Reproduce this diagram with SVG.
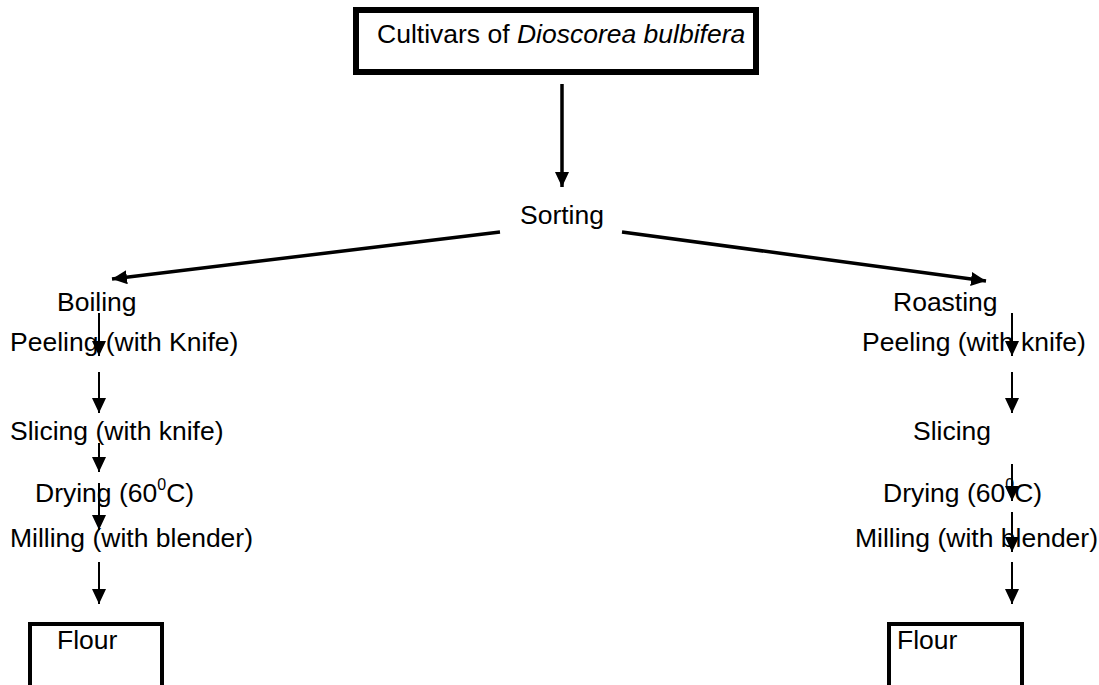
<svg xmlns="http://www.w3.org/2000/svg" width="1099" height="685" viewBox="0 0 1099 685">
<style>
text{font-family:"Liberation Sans",Arial,sans-serif;font-size:26.5px;fill:#000}
.ln{stroke:#000;stroke-width:2;fill:none}
.thick{stroke:#000;stroke-width:3.5;fill:none}
.box{stroke:#000;fill:none}
</style>
<defs>
<marker id="ah" viewBox="0 0 10 10" refX="10" refY="5" markerWidth="7" markerHeight="8" markerUnits="userSpaceOnUse" orient="auto" preserveAspectRatio="none">
<path d="M0,0 L10,5 L0,10 Z" fill="#000"/>
</marker>
<marker id="ahv" viewBox="0 0 10 10" refX="10" refY="5" markerWidth="15" markerHeight="14" markerUnits="userSpaceOnUse" orient="auto" preserveAspectRatio="none">
<path d="M0,0 L10,5 L0,10 Z" fill="#000"/>
</marker>
</defs>
<rect width="1099" height="685" fill="#fff"/>
<g id="connectors">
<line class="thick" x1="562" y1="84" x2="562" y2="187" marker-end="url(#ahv)"/>
<line class="thick" x1="500" y1="232" x2="112" y2="279" marker-end="url(#ahv)"/>
<line class="thick" x1="622" y1="232" x2="986" y2="281" marker-end="url(#ahv)"/>
<line class="ln" x1="99" y1="313" x2="99" y2="356" marker-end="url(#ahv)"/>
<line class="ln" x1="99" y1="372" x2="99" y2="413" marker-end="url(#ahv)"/>
<line class="ln" x1="99" y1="443" x2="99" y2="472" marker-end="url(#ahv)"/>
<line class="ln" x1="99" y1="483" x2="99" y2="530" marker-end="url(#ahv)"/>
<line class="ln" x1="99" y1="562" x2="99" y2="604" marker-end="url(#ahv)"/>
<line class="ln" x1="1012" y1="313" x2="1012" y2="356" marker-end="url(#ahv)"/>
<line class="ln" x1="1012" y1="372" x2="1012" y2="413" marker-end="url(#ahv)"/>
<line class="ln" x1="1012" y1="464" x2="1012" y2="501" marker-end="url(#ahv)"/>
<line class="ln" x1="1012" y1="512" x2="1012" y2="552" marker-end="url(#ahv)"/>
<line class="ln" x1="1012" y1="562" x2="1012" y2="604" marker-end="url(#ahv)"/>
</g>
<g id="cultivars">
<rect class="box" x="356" y="10" width="400" height="62" stroke-width="6"/>
<text x="377" y="43">Cultivars of <tspan font-style="italic">Dioscorea bulbifera</tspan></text>
</g>
<g id="sorting"><text x="520" y="224">Sorting</text></g>
<g id="boiling"><text x="57" y="311">Boiling</text></g>
<g id="peeling-left"><text x="10" y="351">Peeling (with Knife)</text></g>
<g id="slicing-left"><text x="10" y="440">Slicing (with knife)</text></g>
<g id="drying-left"><text x="35" y="502">Drying (60<tspan font-size="16" dy="-12">0</tspan><tspan dy="12">C)</tspan></text></g>
<g id="milling-left"><text x="10" y="547">Milling (with blender)</text></g>
<g id="flour-left">
<path class="box" stroke-width="4" d="M30,685 V624 H162 V685"/>
<text x="57" y="649">Flour</text>
</g>
<g id="roasting"><text x="893" y="311">Roasting</text></g>
<g id="peeling-right"><text x="862" y="351">Peeling (with knife)</text></g>
<g id="slicing-right"><text x="913" y="440">Slicing</text></g>
<g id="drying-right"><text x="883" y="502">Drying (60<tspan font-size="16" dy="-12">0</tspan><tspan dy="12">C)</tspan></text></g>
<g id="milling-right"><text x="855" y="547">Milling (with blender)</text></g>
<g id="flour-right">
<path class="box" stroke-width="4" d="M889,685 V624 H1022 V685"/>
<text x="897" y="649">Flour</text>
</g>
</svg>
